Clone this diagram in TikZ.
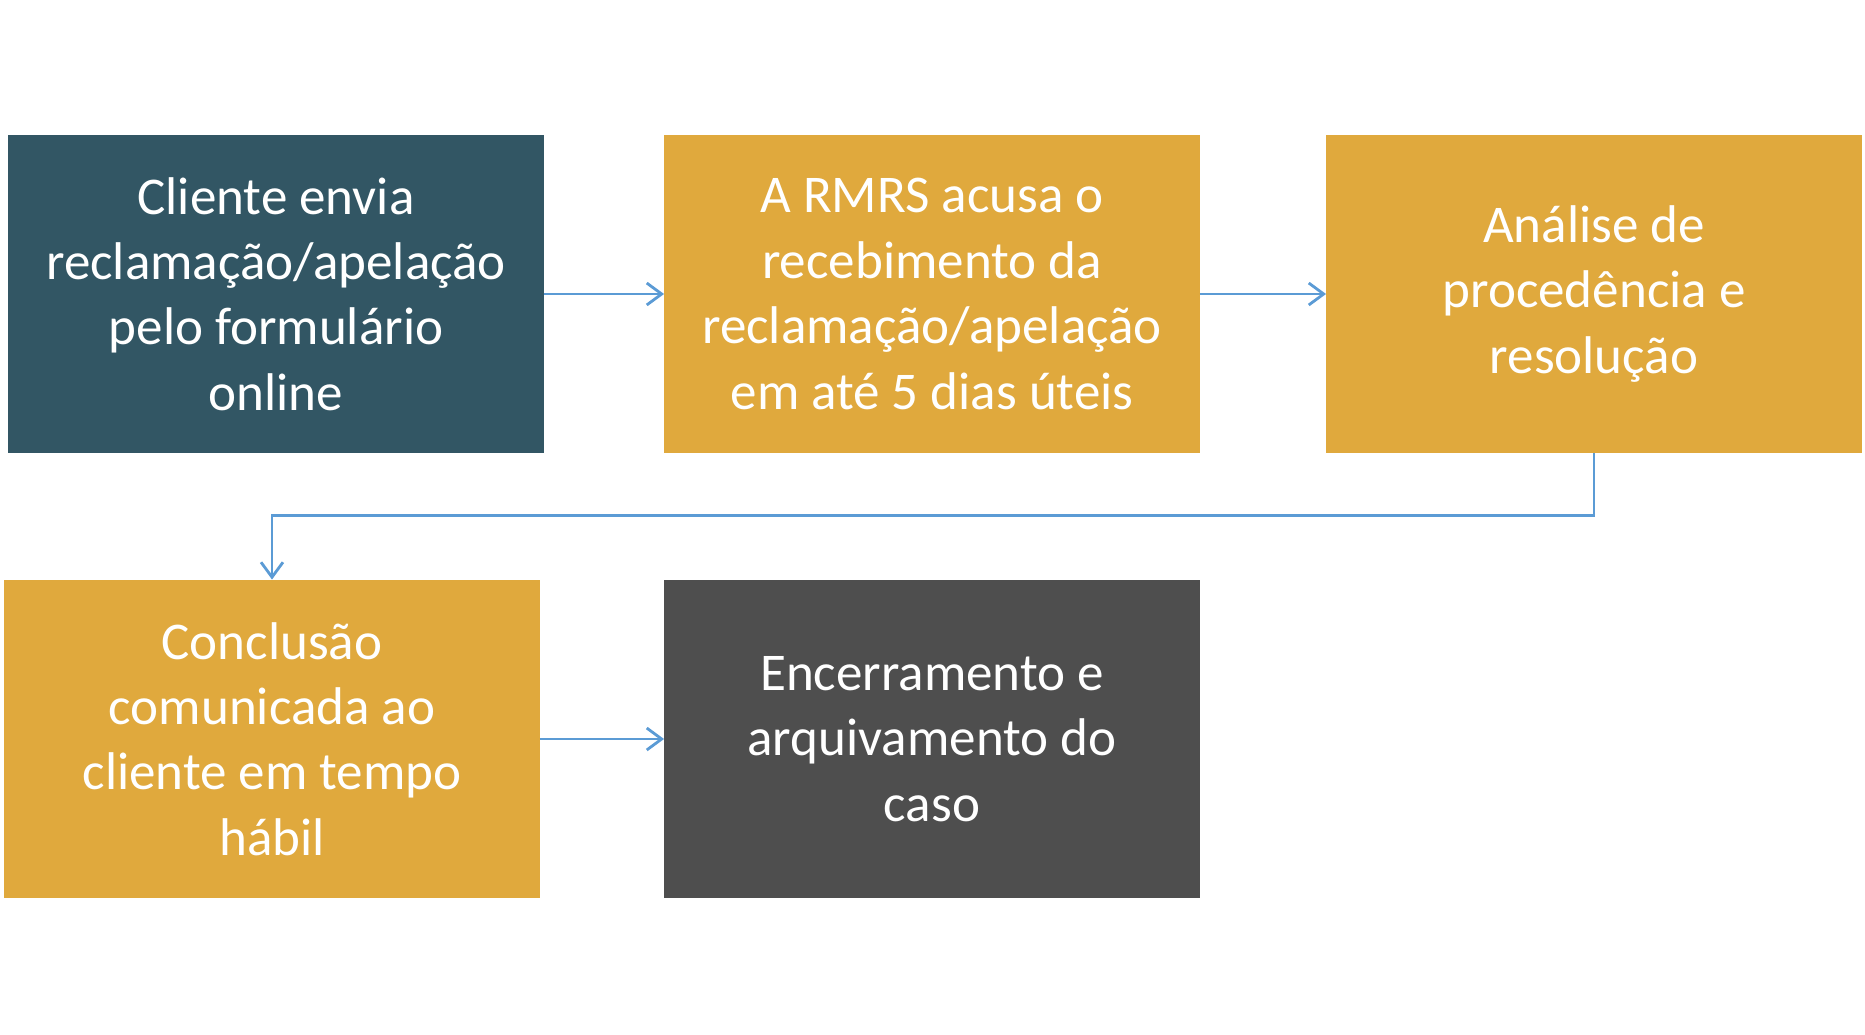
\documentclass[tikz,border=0pt]{standalone}
\usepackage{fontspec}
\setmainfont{Carlito}
\usetikzlibrary{arrows.meta}

\definecolor{tealbox}{RGB}{50,86,100}
\definecolor{goldbox}{RGB}{224,169,61}
\definecolor{greybox}{RGB}{78,78,78}
\definecolor{flowblue}{RGB}{91,155,213}

\tikzset{
  stepbox/.style={minimum width=10.72cm, minimum height=6.38cm, inner sep=0pt, outer sep=0pt,
    align=center, text=white, font=\fontsize{30.2}{37.2}\selectfont},
  flow/.style={draw=flowblue, line width=1.6pt, -{Straight Barb[length=8.5pt, width=12.5pt, line width=1.6pt]}}
}

\begin{document}
\begin{tikzpicture}[x=0.02cm, y=-0.02cm]

\useasboundingbox (0,0) rectangle (1865,1034);

% first row
\node[stepbox, fill=tealbox] (envio) at (276,294) {Cliente envia\\reclamação/apelação\\pelo formulário\\online};
\node[stepbox, fill=goldbox] (acuse) at (932,294) {A RMRS acusa o\\recebimento da\\reclamação/apelação\\em até 5 dias úteis};
\node[stepbox, fill=goldbox] (analise) at (1594,294) {Análise de\\procedência e\\resolução};

% second row
\node[stepbox, fill=goldbox] (conclusao) at (272,739) {Conclusão\\comunicada ao\\cliente em tempo\\hábil};
\node[stepbox, fill=greybox] (encerra) at (932,739) {Encerramento e\\arquivamento do\\caso};

\draw[flow] (envio.east) -- (acuse.west);
\draw[flow] (acuse.east) -- (analise.west);
\draw[flow] (analise.south) -- ++(0,62) -| (conclusao.north);
\draw[flow] (conclusao.east) -- (encerra.west);

\end{tikzpicture}
\end{document}
